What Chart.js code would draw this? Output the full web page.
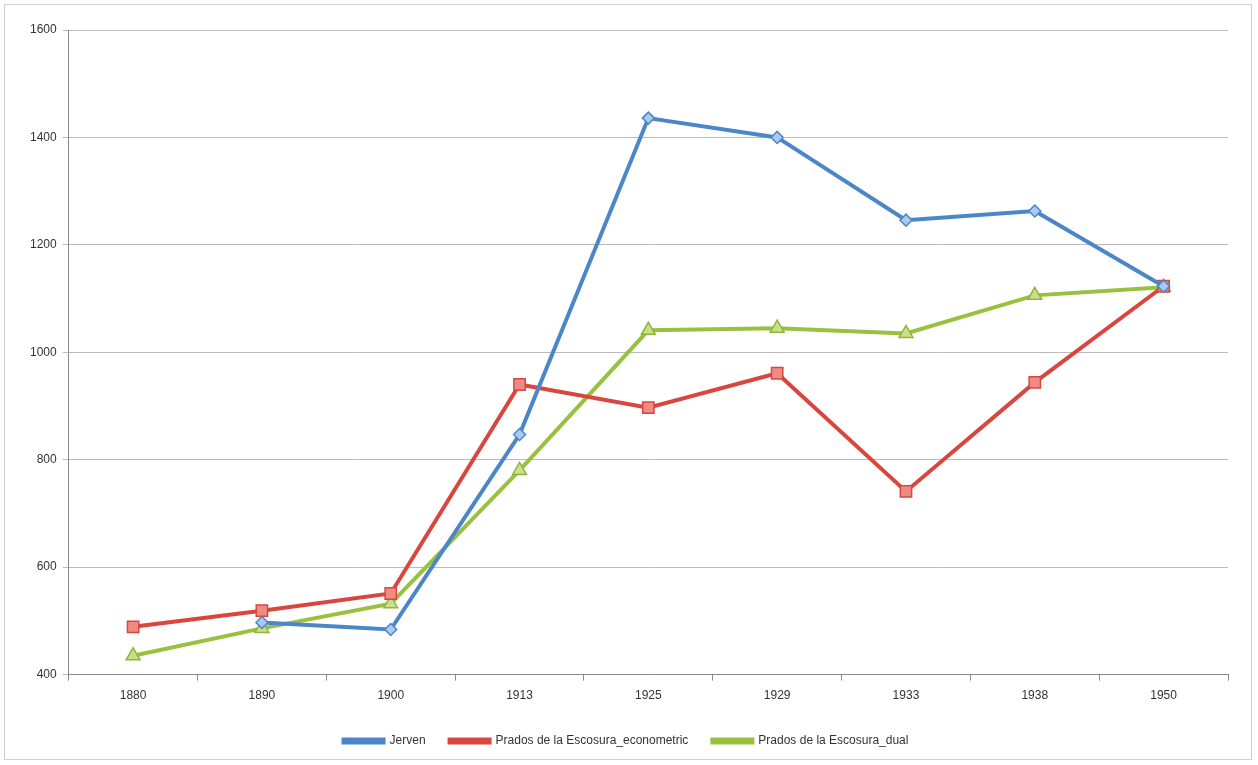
<!DOCTYPE html>
<html><head><meta charset="utf-8">
<script src="https://cdn.jsdelivr.net/npm/chart.js@4"></script>
<style>html,body{margin:0;padding:0;background:#fff}#w{position:absolute;left:4px;top:4px;width:1248px;height:756px;border:1px solid #d0d0d0;box-sizing:border-box}</style>
</head><body><div id="w"><canvas id="c"></canvas></div>
<script>
const categories=["1880","1890","1900","1913","1925","1929","1933","1938","1950"];
const jerven=[null,497,484,847,1436,1400,1246,1263,1123];
const pradosEconometric=[489,519,551,940,897,961,741,944,1123];
const pradosDual=[435,486,532,780,1041,1045,1035,1106,1121];
const yTicks=[400,600,800,1000,1200,1400,1600];
const pt={pointBorderWidth:1.5,borderWidth:4};
new Chart(document.getElementById('c'),{type:'line',
data:{labels:categories,datasets:[
{label:'Jerven',data:jerven,borderColor:'#4a86c8',backgroundColor:'#a9c9ee',pointBorderColor:'#4a86c8',pointStyle:'rectRot',pointRadius:6,...pt},
{label:'Prados de la Escosura_econometric',data:pradosEconometric,borderColor:'#d9463f',backgroundColor:'#f08a84',pointBorderColor:'#d9463f',pointStyle:'rect',pointRadius:8,...pt},
{label:'Prados de la Escosura_dual',data:pradosDual,borderColor:'#99c140',backgroundColor:'#c8e08a',pointBorderColor:'#8fb53a',pointStyle:'triangle',pointRadius:8,...pt}]},
options:{responsive:true,maintainAspectRatio:false,animation:false,
layout:{padding:{left:19,right:23,top:25,bottom:2}},
plugins:{legend:{position:'bottom',labels:{boxWidth:40,boxHeight:3,font:{family:'Liberation Sans',size:12},color:'#333',padding:24}},tooltip:{enabled:false}},
scales:{x:{offset:true,grid:{offset:true,display:true,drawOnChartArea:false,color:'#888',tickLength:6},border:{color:'#888'},ticks:{font:{family:'Liberation Sans',size:12},color:'#333',padding:8}},
y:{min:400,max:1600,afterBuildTicks:a=>{a.ticks=yTicks.map(v=>({value:v}))},grid:{color:'#bbb',tickLength:6},border:{color:'#888'},ticks:{font:{family:'Liberation Sans',size:12},color:'#333',callback:v=>String(v),padding:6}}}}});
</script></body></html>
